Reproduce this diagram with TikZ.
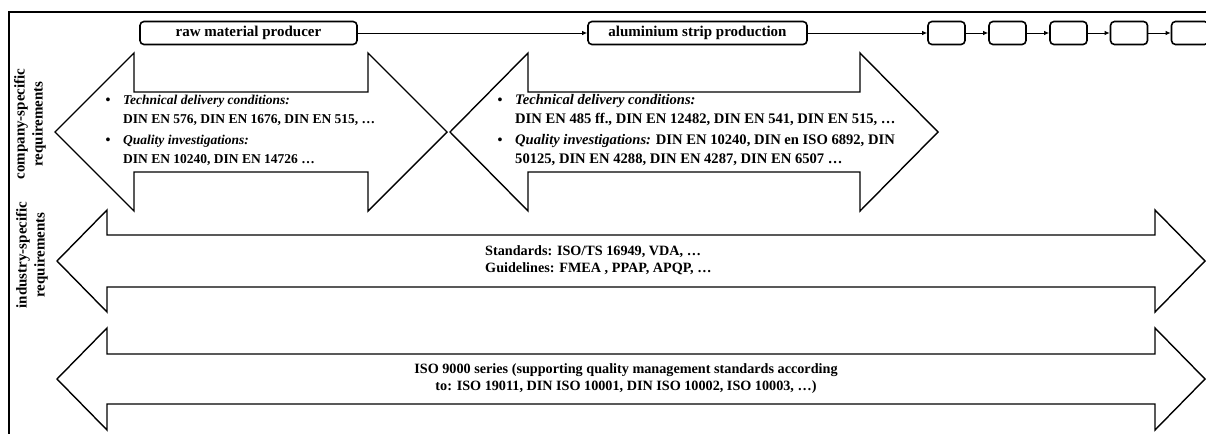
\documentclass[tikz,border=0pt]{standalone}
\usepackage{fontspec}
\setmainfont{Liberation Serif}
\usetikzlibrary{arrows.meta}
\tikzset{
  process/.style={draw,line width=1.6pt,rounded corners=4pt,minimum height=23pt,inner sep=0pt,font=\fontsize{15}{18}\selectfont\bfseries},
  stage/.style={process,minimum width=37pt},
  flow/.style={-{Latex[length=5pt,width=4.5pt]},line width=1pt},
  bigarrow/.style={line width=1.4pt,line join=miter},
  itemtext/.style={align=left,anchor=west,inner sep=0pt,font=\fontsize{13.5}{19}\selectfont\bfseries},
  bul/.style={inner sep=0pt,font=\fontsize{14}{19}\selectfont\bfseries},
  stdtext/.style={inner sep=0pt,font=\fontsize{14.2}{17}\selectfont\bfseries},
  sidelabel/.style={rotate=90,align=center,inner sep=0pt,font=\fontsize{15}{18}\selectfont\bfseries}
}
% left tip, right tip, centre, head length, head half width, shaft half width
\newcommand{\dualarrow}[6]{%
  \draw[bigarrow] (#1,#3) -- ({#1+#4},{#3-#5}) -- ({#1+#4},{#3-#6}) -- ({#2-#4},{#3-#6}) -- ({#2-#4},{#3-#5}) -- (#2,#3) -- ({#2-#4},{#3+#5}) -- ({#2-#4},{#3+#6}) -- ({#1+#4},{#3+#6}) -- ({#1+#4},{#3+#5}) -- cycle;}
\begin{document}
\begin{tikzpicture}[x=1pt,y=-1pt]
\useasboundingbox (0,0) rectangle (1206,434);
\draw[line width=2pt] (1206,12) -- (9,12) -- (9,434);
\node[process,minimum width=217pt] (raw) at (248.5,33) {raw material producer};
\node[process,minimum width=219pt] (strip) at (697.5,33) {aluminium strip production};
\foreach \i/\x in {1/946.5,2/1007.5,3/1068.5,4/1129,5/1190}
  \node[stage] (s\i) at (\x,33) {};
\draw[flow] (raw) -- (strip);
\draw[flow] (strip) -- (s1);
\foreach \a/\b in {1/2,2/3,3/4,4/5}
  \draw[flow] (s\a) -- (s\b);
\dualarrow{55}{447}{132}{79}{79}{40}
\dualarrow{450}{938}{132}{78}{79}{40}
\dualarrow{57}{1205}{261}{50}{51}{26}
\dualarrow{57}{1205}{379}{50}{51}{25}
\node[sidelabel] (cslabel) at (30,124) {company-specific\\requirements};
\node[sidelabel] (islabel) at (32,255) {industry-specific\\requirements};
\node[bul] (b1) at (108,101) {•};
\node[itemtext] (rawtdc) at (123,110.5) {\textit{Technical delivery conditions:}\\DIN EN 576, DIN EN 1676, DIN EN 515, …};
\node[bul] (b2) at (108,141) {•};
\node[itemtext] (rawqi) at (123,150.5) {\textit{Quality investigations:}\\DIN EN 10240, DIN EN 14726 …};
\node[bul] (b3) at (500,101) {•};
\node[itemtext,font=\fontsize{14.6}{19}\selectfont\bfseries] (striptdc) at (515,110.5) {\textit{Technical delivery conditions:}\\DIN EN 485 ff., DIN EN 12482, DIN EN 541, DIN EN 515, …};
\node[bul] (b4) at (500,141) {•};
\node[itemtext,font=\fontsize{14.6}{19}\selectfont\bfseries] (stripqi) at (515,150.5) {\textit{Quality investigations:} DIN EN 10240, DIN en ISO 6892, DIN\\50125, DIN EN 4288, DIN EN 4287, DIN EN 6507 …};
\node[stdtext,align=left,anchor=west] (industry) at (485,260) {Standards: ISO/TS 16949, VDA, …\\Guidelines: FMEA , PPAP, APQP, …};
\node[stdtext,align=center] (iso) at (626,379) {ISO 9000 series (supporting quality management standards according\\to: ISO 19011, DIN ISO 10001, DIN ISO 10002, ISO 10003, …)};
\end{tikzpicture}
\end{document}
